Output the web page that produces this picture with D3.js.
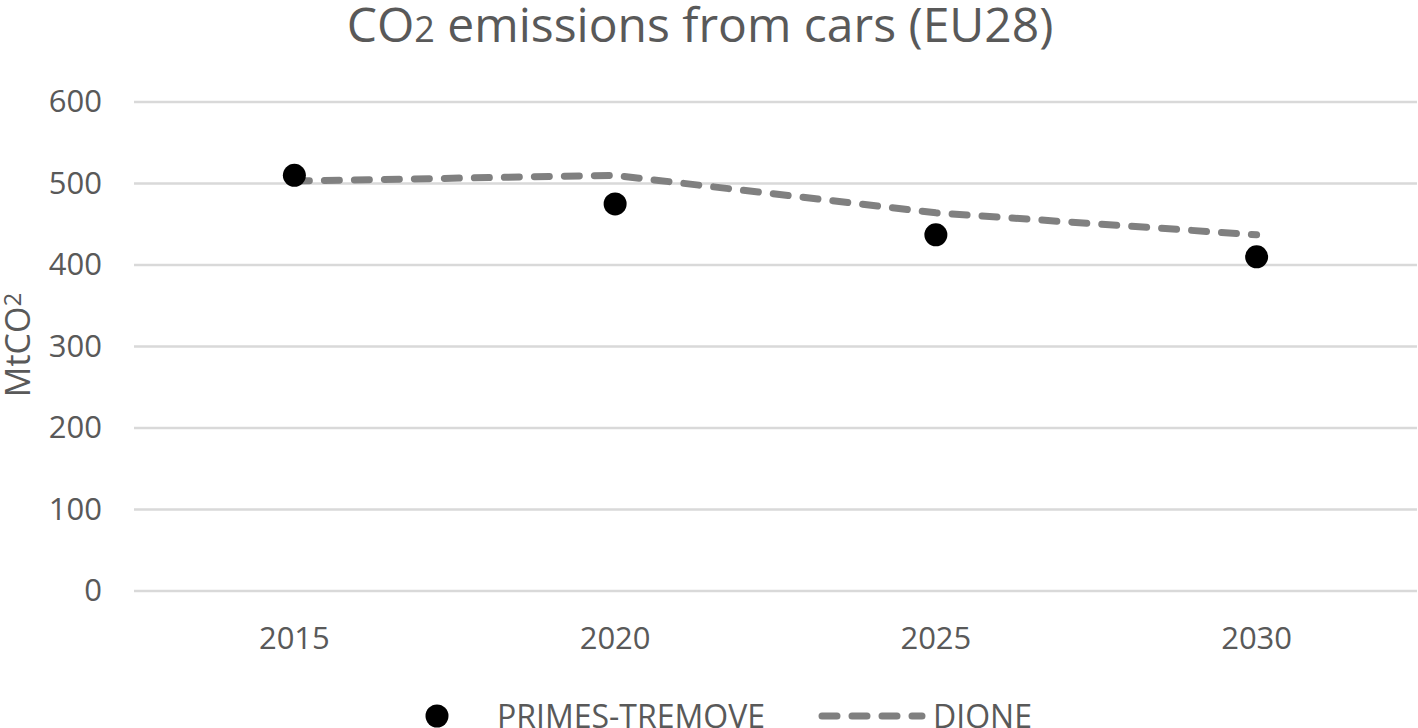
<!DOCTYPE html>
<html><head><meta charset="utf-8">
<script src="https://cdn.jsdelivr.net/npm/d3@7"></script>
<style>body{margin:0;background:#fff;overflow:hidden;} text{font-family:"Open Sans","Liberation Sans",sans-serif;}</style>
</head><body>
<svg id="c" width="1418" height="728"></svg>
<script>
const years = ["2015","2020","2025","2030"];
const primes = [510, 475, 437, 410];
const dione = [503, 510, 464, 437];
const yTicks = [0,100,200,300,400,500,600];

(function(){
const svg = d3.select("#c");
const L = 134, R = 1417, T = 102, B = 591;
const x = d3.scaleBand().domain(years).range([L, R]);
const y = d3.scaleLinear().domain([0,600]).range([B, T]);
const cx = d => x(d) + x.bandwidth()/2;
const txt = "#595959";
const font = '"Open Sans",sans-serif';

svg.append("g").selectAll("line").data(yTicks).join("line")
  .attr("x1", L).attr("x2", R)
  .attr("y1", d=>y(d)).attr("y2", d=>y(d))
  .attr("stroke", "#d9d9d9").attr("stroke-width", 2.5);

const yAxis = d3.axisLeft(y).tickValues(yTicks).tickSize(0).tickPadding(32);
const gy = svg.append("g").attr("transform", `translate(${L},0)`).call(yAxis);
gy.select(".domain").remove();
gy.selectAll("text").attr("fill", txt).attr("font-size", 31).style("font-family", font);

const xAxis = d3.axisBottom(x).tickSize(0).tickPadding(36);
const gx = svg.append("g").attr("transform", `translate(0,${B})`).call(xAxis);
gx.select(".domain").remove();
gx.selectAll("text").attr("fill", txt).attr("font-size", 31).style("font-family", font);

const line = d3.line().x((d,i)=>cx(years[i])).y(d=>y(d));
svg.append("path").datum(dione).attr("d", line)
  .attr("fill","none").attr("stroke","#808080").attr("stroke-width",7)
  .attr("stroke-dasharray","15,15").attr("stroke-linecap","round");

svg.append("g").selectAll("circle").data(primes).join("circle")
  .attr("cx",(d,i)=>cx(years[i])).attr("cy",d=>y(d)).attr("r",11.5).attr("fill","#000");

const t = svg.append("text").attr("x", 700).attr("y", 42).attr("text-anchor","middle")
  .attr("fill", txt).attr("font-size", 48);
t.append("tspan").text("CO");
t.append("tspan").attr("font-size", 36).text("2");
t.append("tspan").text(" emissions from cars (EU28)");

const yt = svg.append("text").attr("transform","translate(30,345) rotate(-90)")
  .attr("text-anchor","middle").attr("fill", txt).attr("font-size", 34);
yt.append("tspan").text("MtCO");
yt.append("tspan").attr("font-size", 24).attr("dy", -9).text("2");

svg.append("circle").attr("cx", 437).attr("cy", 716).attr("r", 11.5).attr("fill","#000");
svg.append("text").attr("x", 497).attr("y", 728).attr("fill", txt).attr("font-size", 32).text("PRIMES-TREMOVE");
svg.append("line").attr("x1", 822).attr("x2", 922).attr("y1", 716).attr("y2", 716)
  .attr("stroke","#808080").attr("stroke-width",7).attr("stroke-dasharray","15,15").attr("stroke-linecap","round");
svg.append("text").attr("x", 933).attr("y", 728).attr("fill", txt).attr("font-size", 32).text("DIONE");
})();
</script>
</body></html>
